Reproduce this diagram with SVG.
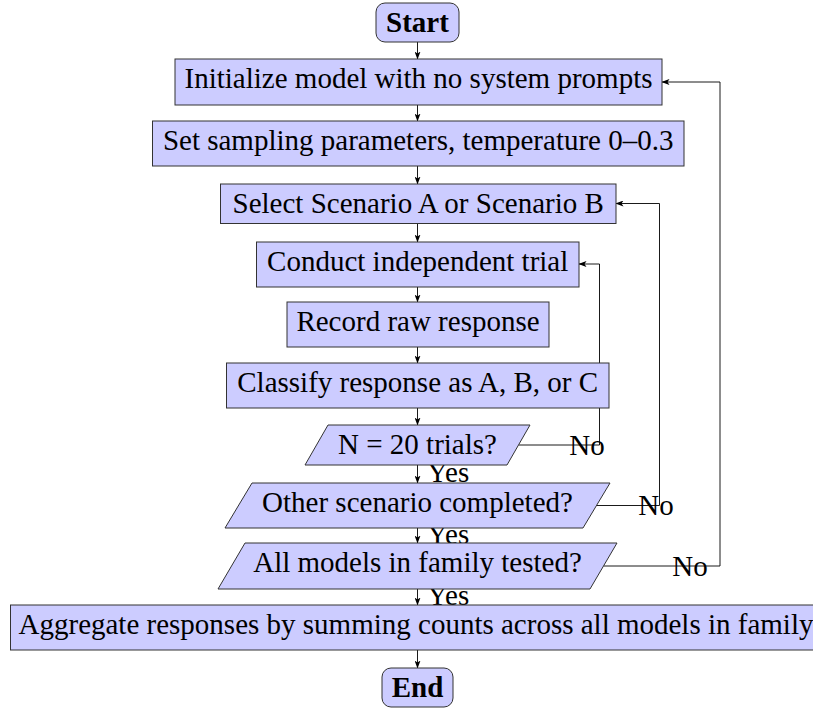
<svg xmlns="http://www.w3.org/2000/svg" width="813" height="708" viewBox="0 0 813 708">
<style>
.box{fill:#ccccff;stroke:#333;stroke-width:1}
.t{font-family:"Liberation Serif","Times New Roman",serif;font-size:29px;fill:#000;text-anchor:middle}
.b{font-weight:bold}
.lbl{font-family:"Liberation Serif","Times New Roman",serif;font-size:29px;fill:#000}
.c{fill:none;stroke:#000;stroke-width:0.9;marker-end:url(#ah)}
</style>
<defs>
<marker id="ah" viewBox="0 0 8 6" refX="7.5" refY="3" markerWidth="8" markerHeight="6" markerUnits="userSpaceOnUse" orient="auto">
<path d="M0,0 L8,3 L0,6 L2,3 z" fill="#000"/>
</marker>
</defs>
<rect width="813" height="708" fill="#fff"/>
<g id="connectors">
<path class="c" d="M417.5,42 V59"/>
<path class="c" d="M417.5,105 V121"/>
<path class="c" d="M417.5,166 V184"/>
<path class="c" d="M417.5,223 V242"/>
<path class="c" d="M417.5,287 V302"/>
<path class="c" d="M417.5,347 V363"/>
<path class="c" d="M417.5,408 V425"/>
<path class="c" d="M417.5,465 V483"/>
<path class="c" d="M417.5,528 V543"/>
<path class="c" d="M417.5,589 V605"/>
<path class="c" d="M417.5,650 V668"/>
<path class="c" d="M518.5,445 H599.5 V264 H579"/>
<path class="c" d="M596.5,505.5 H659.5 V203.5 H616"/>
<path class="c" d="M603.5,566 H720 V82 H662"/>
<text class="lbl" x="427" y="482">Yes</text>
<text class="lbl" x="427" y="543.5">Yes</text>
<text class="lbl" x="427" y="605">Yes</text>
<text class="t" x="587" y="454.6">No</text>
<text class="t" x="656" y="515">No</text>
<text class="t" x="690" y="575.6">No</text>
</g>
<g id="start">
<rect class="box" x="376" y="3" width="83" height="39" rx="9"/>
<text class="t b" x="417.5" y="32.4">Start</text>
</g>
<g id="init">
<rect class="box" x="175" y="59" width="487" height="46"/>
<text class="t" x="418.5" y="88.4">Initialize model with no system prompts</text>
</g>
<g id="sampling">
<rect class="box" x="152.5" y="121" width="531.5" height="45"/>
<text class="t" x="418.2" y="150.4">Set sampling parameters, temperature 0–0.3</text>
</g>
<g id="select">
<rect class="box" x="220.5" y="184" width="395.5" height="39.5"/>
<text class="t" x="418.2" y="213.4">Select Scenario A or Scenario B</text>
</g>
<g id="conduct">
<rect class="box" x="256.5" y="242" width="322.5" height="45"/>
<text class="t" x="417.7" y="271.4">Conduct independent trial</text>
</g>
<g id="record">
<rect class="box" x="287" y="302" width="262" height="45"/>
<text class="t" x="418" y="331.4">Record raw response</text>
</g>
<g id="classify">
<rect class="box" x="226.5" y="363" width="382.5" height="45"/>
<text class="t" x="417.7" y="392.4">Classify response as A, B, or C</text>
</g>
<g id="ntrials">
<polygon class="box" points="305,465 328,425 530,425 507,465"/>
<text class="t" x="417.5" y="454.4">N = 20 trials?</text>
</g>
<g id="other">
<polygon class="box" points="225,528 252,483 610,483 583,528"/>
<text class="t" x="417.5" y="512.4">Other scenario completed?</text>
</g>
<g id="allmodels">
<polygon class="box" points="218,589 245,543 617,543 590,589"/>
<text class="t" x="417.5" y="572.4">All models in family tested?</text>
</g>
<g id="aggregate">
<rect class="box" x="10.5" y="605" width="815" height="45"/>
<text class="t" x="416" y="634.4">Aggregate responses by summing counts across all models in family</text>
</g>
<g id="end">
<rect class="box" x="382" y="668" width="71" height="39" rx="9"/>
<text class="t b" x="417.5" y="697.4">End</text>
</g>
</svg>
